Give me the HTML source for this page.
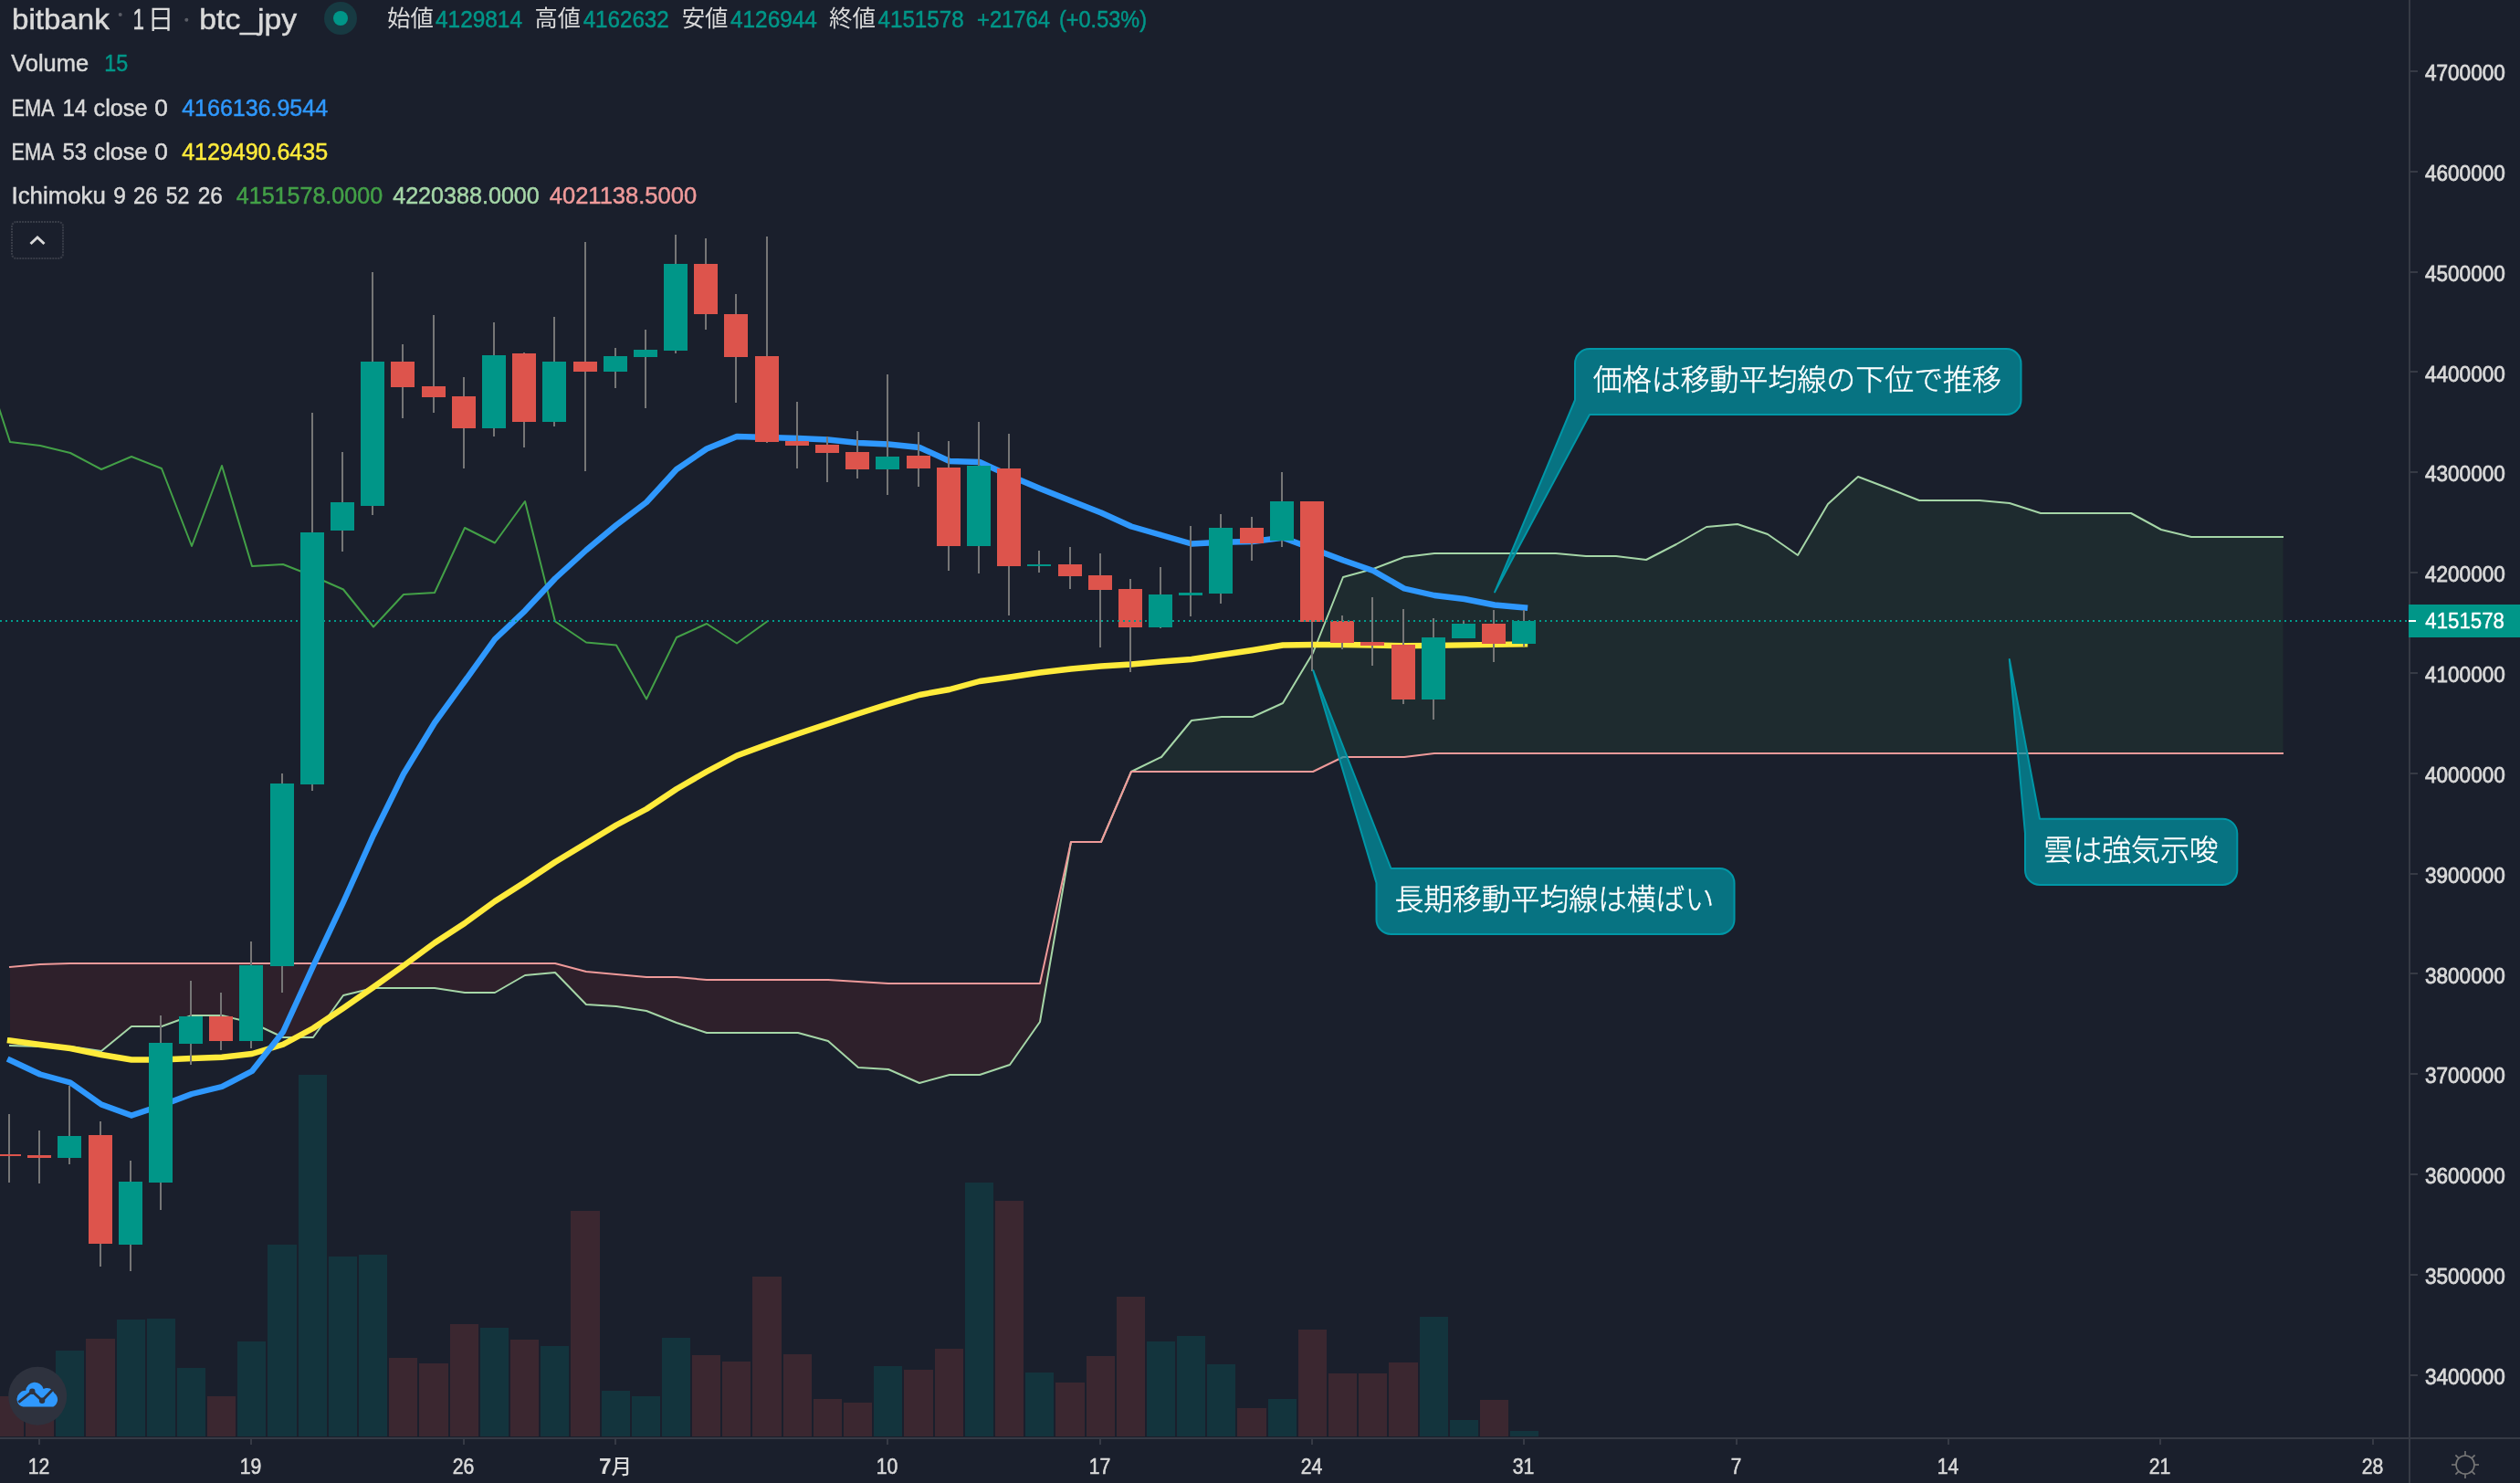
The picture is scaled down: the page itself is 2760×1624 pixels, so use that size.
<!DOCTYPE html><html lang="ja"><head><meta charset="utf-8"><title>bitbank btc_jpy</title>
<style>html,body{margin:0;padding:0;background:#1a1f2c;}body{width:2760px;height:1624px;overflow:hidden;}svg{display:block;will-change:transform;}
text{font-family:"Liberation Sans","Noto Sans CJK JP",sans-serif;}.cj{font-family:"Noto Sans CJK JP","Liberation Sans",sans-serif;}</style></head><body>
<svg width="2760" height="1624" viewBox="0 0 2760 1624">
<rect width="2760" height="1624" fill="#1a1f2c"/>
<defs><clipPath id="ca"><rect x="0" y="0" width="2638" height="1574"/></clipPath></defs>
<g clip-path="url(#ca)">
<g shape-rendering="crispEdges">
<rect x="-5" y="1529" width="31" height="44" fill="#3b2730"/>
<rect x="28" y="1529" width="31" height="44" fill="#3b2730"/>
<rect x="61" y="1479" width="31" height="94" fill="#13343d"/>
<rect x="94" y="1466" width="32" height="107" fill="#3b2730"/>
<rect x="128" y="1445" width="31" height="128" fill="#13343d"/>
<rect x="161" y="1444" width="31" height="129" fill="#13343d"/>
<rect x="194" y="1498" width="31" height="75" fill="#13343d"/>
<rect x="227" y="1529" width="31" height="44" fill="#3b2730"/>
<rect x="260" y="1469" width="31" height="104" fill="#13343d"/>
<rect x="293" y="1363" width="32" height="210" fill="#13343d"/>
<rect x="327" y="1177" width="31" height="396" fill="#13343d"/>
<rect x="360" y="1376" width="31" height="197" fill="#13343d"/>
<rect x="393" y="1374" width="31" height="199" fill="#13343d"/>
<rect x="426" y="1487" width="31" height="86" fill="#3b2730"/>
<rect x="459" y="1493" width="32" height="80" fill="#3b2730"/>
<rect x="493" y="1450" width="31" height="123" fill="#3b2730"/>
<rect x="526" y="1454" width="31" height="119" fill="#13343d"/>
<rect x="559" y="1467" width="31" height="106" fill="#3b2730"/>
<rect x="592" y="1474" width="31" height="99" fill="#13343d"/>
<rect x="625" y="1326" width="32" height="247" fill="#3b2730"/>
<rect x="659" y="1523" width="31" height="50" fill="#13343d"/>
<rect x="692" y="1529" width="31" height="44" fill="#13343d"/>
<rect x="725" y="1465" width="31" height="108" fill="#13343d"/>
<rect x="758" y="1484" width="31" height="89" fill="#3b2730"/>
<rect x="791" y="1491" width="31" height="82" fill="#3b2730"/>
<rect x="824" y="1398" width="32" height="175" fill="#3b2730"/>
<rect x="858" y="1483" width="31" height="90" fill="#3b2730"/>
<rect x="891" y="1532" width="31" height="41" fill="#3b2730"/>
<rect x="924" y="1536" width="31" height="37" fill="#3b2730"/>
<rect x="957" y="1496" width="31" height="77" fill="#13343d"/>
<rect x="990" y="1500" width="32" height="73" fill="#3b2730"/>
<rect x="1024" y="1477" width="31" height="96" fill="#3b2730"/>
<rect x="1057" y="1295" width="31" height="278" fill="#13343d"/>
<rect x="1090" y="1315" width="31" height="258" fill="#3b2730"/>
<rect x="1123" y="1503" width="31" height="70" fill="#13343d"/>
<rect x="1156" y="1514" width="32" height="59" fill="#3b2730"/>
<rect x="1190" y="1485" width="31" height="88" fill="#3b2730"/>
<rect x="1223" y="1420" width="31" height="153" fill="#3b2730"/>
<rect x="1256" y="1469" width="31" height="104" fill="#13343d"/>
<rect x="1289" y="1463" width="31" height="110" fill="#13343d"/>
<rect x="1322" y="1494" width="31" height="79" fill="#13343d"/>
<rect x="1355" y="1542" width="32" height="31" fill="#3b2730"/>
<rect x="1389" y="1532" width="31" height="41" fill="#13343d"/>
<rect x="1422" y="1456" width="31" height="117" fill="#3b2730"/>
<rect x="1455" y="1504" width="31" height="69" fill="#3b2730"/>
<rect x="1488" y="1504" width="31" height="69" fill="#3b2730"/>
<rect x="1521" y="1492" width="32" height="81" fill="#3b2730"/>
<rect x="1555" y="1442" width="31" height="131" fill="#13343d"/>
<rect x="1588" y="1555" width="31" height="18" fill="#13343d"/>
<rect x="1621" y="1533" width="31" height="40" fill="#3b2730"/>
<rect x="1654" y="1567" width="31" height="6" fill="#13343d"/>
</g>
<path d="M11.00,1145.00 L44.00,1146.00 L77.00,1146.00 L111.00,1151.00 L144.00,1124.00 L177.00,1124.00 L210.00,1112.00 L243.00,1112.00 L276.00,1120.00 L310.00,1136.00 L343.00,1136.00 L376.00,1090.00 L409.00,1082.00 L442.00,1082.00 L476.00,1082.00 L509.00,1087.00 L542.00,1087.00 L575.00,1068.00 L608.00,1065.00 L642.00,1100.00 L675.00,1102.00 L708.00,1107.00 L741.00,1120.00 L774.00,1131.00 L807.00,1131.00 L841.00,1131.00 L874.00,1131.00 L907.00,1140.00 L940.00,1169.00 L973.00,1171.00 L1007.00,1186.00 L1040.00,1177.00 L1073.00,1177.00 L1106.00,1166.00 L1139.00,1119.00 L1173.00,922.00 L1173.00,922.00 L1139.00,1077.00 L1106.00,1077.00 L1073.00,1077.00 L1040.00,1077.00 L1007.00,1077.00 L973.00,1077.00 L940.00,1075.00 L907.00,1073.00 L874.00,1073.00 L841.00,1073.00 L807.00,1073.00 L774.00,1073.00 L741.00,1070.00 L708.00,1070.00 L675.00,1067.00 L642.00,1064.00 L608.00,1055.00 L575.00,1055.00 L542.00,1055.00 L509.00,1055.00 L476.00,1055.00 L442.00,1055.00 L409.00,1055.00 L376.00,1055.00 L343.00,1055.00 L310.00,1055.00 L276.00,1055.00 L243.00,1055.00 L210.00,1055.00 L177.00,1055.00 L144.00,1055.00 L111.00,1055.00 L77.00,1055.00 L44.00,1056.00 L11.00,1059.00Z" fill="#2e202b"/>
<path d="M1239.00,845.00 L1272.00,829.00 L1305.00,789.00 L1338.00,785.00 L1372.00,785.00 L1405.00,770.00 L1438.00,715.00 L1471.00,632.00 L1504.00,623.00 L1538.00,610.00 L1571.00,606.00 L1604.00,606.00 L1637.00,606.00 L1670.00,606.00 L1704.00,606.00 L1737.00,609.00 L1770.00,609.00 L1803.00,613.00 L1836.00,596.00 L1869.00,577.00 L1903.00,574.00 L1936.00,585.00 L1969.00,608.00 L2002.00,552.00 L2035.00,522.00 L2069.00,535.00 L2102.00,548.00 L2135.00,548.00 L2168.00,548.00 L2201.00,551.00 L2235.00,562.00 L2268.00,562.00 L2301.00,562.00 L2334.00,562.00 L2367.00,580.00 L2400.00,588.00 L2434.00,588.00 L2467.00,588.00 L2500.50,588.00 L2500.50,825.00 L2467.00,825.00 L2434.00,825.00 L2400.00,825.00 L2367.00,825.00 L2334.00,825.00 L2301.00,825.00 L2268.00,825.00 L2235.00,825.00 L2201.00,825.00 L2168.00,825.00 L2135.00,825.00 L2102.00,825.00 L2069.00,825.00 L2035.00,825.00 L2002.00,825.00 L1969.00,825.00 L1936.00,825.00 L1903.00,825.00 L1869.00,825.00 L1836.00,825.00 L1803.00,825.00 L1770.00,825.00 L1737.00,825.00 L1704.00,825.00 L1670.00,825.00 L1637.00,825.00 L1604.00,825.00 L1571.00,825.00 L1538.00,829.00 L1504.00,829.00 L1471.00,829.00 L1438.00,845.00 L1405.00,845.00 L1372.00,845.00 L1338.00,845.00 L1305.00,845.00 L1272.00,845.00 L1239.00,845.00Z" fill="#1e2b2f"/>
<polyline points="-22.0,383.00 11.0,484.00 44.0,488.00 77.0,496.00 111.0,514.00 144.0,500.00 177.0,513.00 210.0,598.00 243.0,510.00 276.0,620.00 310.0,618.00 343.0,631.00 376.0,645.50 409.0,686.50 442.0,651.00 476.0,649.00 509.0,578.00 542.0,594.50 575.0,549.00 608.0,680.50 642.0,703.50 675.0,706.50 708.0,765.50 741.0,698.00 774.0,683.00 807.0,704.50 841.0,680.00" fill="none" stroke="#43a047" stroke-width="2" stroke-linejoin="round"/>
<polyline points="11.0,1145.00 44.0,1146.00 77.0,1146.00 111.0,1151.00 144.0,1124.00 177.0,1124.00 210.0,1112.00 243.0,1112.00 276.0,1120.00 310.0,1136.00 343.0,1136.00 376.0,1090.00 409.0,1082.00 442.0,1082.00 476.0,1082.00 509.0,1087.00 542.0,1087.00 575.0,1068.00 608.0,1065.00 642.0,1100.00 675.0,1102.00 708.0,1107.00 741.0,1120.00 774.0,1131.00 807.0,1131.00 841.0,1131.00 874.0,1131.00 907.0,1140.00 940.0,1169.00 973.0,1171.00 1007.0,1186.00 1040.0,1177.00 1073.0,1177.00 1106.0,1166.00 1139.0,1119.00 1173.0,922.00 1206.0,922.00 1239.0,845.00 1272.0,829.00 1305.0,789.00 1338.0,785.00 1372.0,785.00 1405.0,770.00 1438.0,715.00 1471.0,632.00 1504.0,623.00 1538.0,610.00 1571.0,606.00 1604.0,606.00 1637.0,606.00 1670.0,606.00 1704.0,606.00 1737.0,609.00 1770.0,609.00 1803.0,613.00 1836.0,596.00 1869.0,577.00 1903.0,574.00 1936.0,585.00 1969.0,608.00 2002.0,552.00 2035.0,522.00 2069.0,535.00 2102.0,548.00 2135.0,548.00 2168.0,548.00 2201.0,551.00 2235.0,562.00 2268.0,562.00 2301.0,562.00 2334.0,562.00 2367.0,580.00 2400.0,588.00 2434.0,588.00 2467.0,588.00 2500.0,588.00" fill="none" stroke="#a5d6a7" stroke-width="2" stroke-linejoin="round" stroke-linecap="square"/>
<polyline points="11.0,1059.00 44.0,1056.00 77.0,1055.00 111.0,1055.00 144.0,1055.00 177.0,1055.00 210.0,1055.00 243.0,1055.00 276.0,1055.00 310.0,1055.00 343.0,1055.00 376.0,1055.00 409.0,1055.00 442.0,1055.00 476.0,1055.00 509.0,1055.00 542.0,1055.00 575.0,1055.00 608.0,1055.00 642.0,1064.00 675.0,1067.00 708.0,1070.00 741.0,1070.00 774.0,1073.00 807.0,1073.00 841.0,1073.00 874.0,1073.00 907.0,1073.00 940.0,1075.00 973.0,1077.00 1007.0,1077.00 1040.0,1077.00 1073.0,1077.00 1106.0,1077.00 1139.0,1077.00 1173.0,922.00 1206.0,922.00 1239.0,845.00 1272.0,845.00 1305.0,845.00 1338.0,845.00 1372.0,845.00 1405.0,845.00 1438.0,845.00 1471.0,829.00 1504.0,829.00 1538.0,829.00 1571.0,825.00 1604.0,825.00 1637.0,825.00 1670.0,825.00 1704.0,825.00 1737.0,825.00 1770.0,825.00 1803.0,825.00 1836.0,825.00 1869.0,825.00 1903.0,825.00 1936.0,825.00 1969.0,825.00 2002.0,825.00 2035.0,825.00 2069.0,825.00 2102.0,825.00 2135.0,825.00 2168.0,825.00 2201.0,825.00 2235.0,825.00 2268.0,825.00 2301.0,825.00 2334.0,825.00 2367.0,825.00 2400.0,825.00 2434.0,825.00 2467.0,825.00 2500.0,825.00" fill="none" stroke="#ef9a9a" stroke-width="2" stroke-linejoin="round" stroke-linecap="square"/>
<polyline points="11.0,1139.50 44.0,1144.00 77.0,1148.00 111.0,1155.00 144.0,1160.50 177.0,1160.50 210.0,1159.00 243.0,1157.75 276.0,1154.00 310.0,1143.75 343.0,1126.00 376.0,1104.00 409.0,1081.00 442.0,1057.50 476.0,1032.50 509.0,1011.00 542.0,987.00 575.0,966.00 608.0,944.00 642.0,923.50 675.0,903.50 708.0,886.00 741.0,864.00 774.0,845.00 807.0,827.50 841.0,815.00 874.0,803.50 907.0,792.50 940.0,781.50 973.0,771.00 1007.0,761.00 1040.0,755.00 1073.0,746.00 1106.0,741.50 1139.0,736.50 1173.0,732.50 1206.0,729.50 1239.0,727.50 1272.0,724.50 1305.0,722.00 1338.0,717.00 1372.0,712.00 1405.0,706.50 1438.0,706.00 1471.0,706.00 1504.0,706.50 1538.0,707.20 1571.0,706.90 1604.0,706.40 1637.0,705.90 1670.0,705.40" fill="none" stroke="#ffeb3b" stroke-width="6.4" stroke-linejoin="round" stroke-linecap="square"/>
<polyline points="11.0,1161.00 44.0,1176.50 77.0,1185.50 111.0,1209.50 144.0,1221.50 177.0,1210.50 210.0,1198.00 243.0,1190.00 276.0,1173.00 310.0,1130.00 343.0,1058.00 376.0,988.00 409.0,914.50 442.0,847.50 476.0,791.50 509.0,746.00 542.0,700.00 575.0,668.80 608.0,633.50 642.0,602.50 675.0,575.00 708.0,550.00 741.0,514.00 774.0,491.50 807.0,478.00 841.0,479.00 874.0,480.00 907.0,481.50 940.0,485.00 973.0,486.50 1007.0,490.00 1040.0,505.00 1073.0,506.00 1106.0,521.00 1139.0,535.00 1173.0,548.50 1206.0,561.50 1239.0,576.50 1272.0,586.00 1305.0,595.50 1338.0,593.75 1372.0,593.00 1405.0,588.75 1438.0,601.00 1471.0,613.50 1504.0,625.00 1538.0,644.50 1571.0,652.00 1604.0,656.00 1637.0,662.50 1670.0,665.50" fill="none" stroke="#2f98fd" stroke-width="6.4" stroke-linejoin="round" stroke-linecap="square"/>
<line x1="0" y1="680" x2="2638" y2="680" stroke="#009c8c" stroke-width="2" stroke-dasharray="2 4" shape-rendering="crispEdges"/>
<g shape-rendering="crispEdges">
<rect x="9" y="1220.00" width="2" height="74.50" fill="#767676"/>
<rect x="-3" y="1264.00" width="26" height="2.00" fill="#dd544c"/>
<rect x="42" y="1238.00" width="2" height="57.50" fill="#767676"/>
<rect x="30" y="1264.75" width="26" height="3.00" fill="#dd544c"/>
<rect x="75" y="1189.00" width="2" height="85.50" fill="#767676"/>
<rect x="63" y="1244.00" width="26" height="23.50" fill="#009688"/>
<rect x="109" y="1228.00" width="2" height="158.50" fill="#767676"/>
<rect x="97" y="1243.00" width="26" height="118.50" fill="#dd544c"/>
<rect x="142" y="1271.00" width="2" height="120.50" fill="#767676"/>
<rect x="130" y="1294.00" width="26" height="68.50" fill="#009688"/>
<rect x="175" y="1112.00" width="2" height="212.50" fill="#767676"/>
<rect x="163" y="1142.00" width="26" height="152.50" fill="#009688"/>
<rect x="208" y="1074.00" width="2" height="92.00" fill="#767676"/>
<rect x="196" y="1113.00" width="26" height="29.50" fill="#009688"/>
<rect x="241" y="1087.00" width="2" height="62.50" fill="#767676"/>
<rect x="229" y="1113.00" width="26" height="26.50" fill="#dd544c"/>
<rect x="274" y="1031.00" width="2" height="116.50" fill="#767676"/>
<rect x="262" y="1057.00" width="26" height="82.50" fill="#009688"/>
<rect x="308" y="847.00" width="2" height="239.50" fill="#767676"/>
<rect x="296" y="858.00" width="26" height="199.50" fill="#009688"/>
<rect x="341" y="452.00" width="2" height="414.00" fill="#767676"/>
<rect x="329" y="583.00" width="26" height="276.00" fill="#009688"/>
<rect x="374" y="495.00" width="2" height="109.00" fill="#767676"/>
<rect x="362" y="550.00" width="26" height="31.00" fill="#009688"/>
<rect x="407" y="298.00" width="2" height="266.00" fill="#767676"/>
<rect x="395" y="396.00" width="26" height="158.00" fill="#009688"/>
<rect x="440" y="376.50" width="2" height="81.50" fill="#767676"/>
<rect x="428" y="396.00" width="26" height="28.00" fill="#dd544c"/>
<rect x="474" y="345.00" width="2" height="107.00" fill="#767676"/>
<rect x="462" y="423.00" width="26" height="12.00" fill="#dd544c"/>
<rect x="507" y="413.00" width="2" height="100.00" fill="#767676"/>
<rect x="495" y="434.00" width="26" height="35.00" fill="#dd544c"/>
<rect x="540" y="353.00" width="2" height="125.00" fill="#767676"/>
<rect x="528" y="389.00" width="26" height="80.00" fill="#009688"/>
<rect x="573" y="386.00" width="2" height="104.00" fill="#767676"/>
<rect x="561" y="387.00" width="26" height="75.00" fill="#dd544c"/>
<rect x="606" y="346.50" width="2" height="120.50" fill="#767676"/>
<rect x="594" y="396.00" width="26" height="66.00" fill="#009688"/>
<rect x="640" y="265.00" width="2" height="250.50" fill="#767676"/>
<rect x="628" y="396.00" width="26" height="11.00" fill="#dd544c"/>
<rect x="673" y="381.00" width="2" height="44.00" fill="#767676"/>
<rect x="661" y="390.00" width="26" height="17.00" fill="#009688"/>
<rect x="706" y="361.00" width="2" height="86.00" fill="#767676"/>
<rect x="694" y="383.00" width="26" height="8.00" fill="#009688"/>
<rect x="739" y="257.00" width="2" height="130.00" fill="#767676"/>
<rect x="727" y="289.00" width="26" height="95.00" fill="#009688"/>
<rect x="772" y="261.00" width="2" height="100.00" fill="#767676"/>
<rect x="760" y="289.00" width="26" height="55.00" fill="#dd544c"/>
<rect x="805" y="322.00" width="2" height="119.00" fill="#767676"/>
<rect x="793" y="344.00" width="26" height="47.00" fill="#dd544c"/>
<rect x="839" y="259.00" width="2" height="226.00" fill="#767676"/>
<rect x="827" y="390.00" width="26" height="94.00" fill="#dd544c"/>
<rect x="872" y="440.00" width="2" height="73.00" fill="#767676"/>
<rect x="860" y="483.00" width="26" height="5.00" fill="#dd544c"/>
<rect x="905" y="478.00" width="2" height="50.00" fill="#767676"/>
<rect x="893" y="487.00" width="26" height="9.00" fill="#dd544c"/>
<rect x="938" y="472.00" width="2" height="52.00" fill="#767676"/>
<rect x="926" y="495.00" width="26" height="19.00" fill="#dd544c"/>
<rect x="971" y="410.00" width="2" height="132.00" fill="#767676"/>
<rect x="959" y="500.00" width="26" height="14.00" fill="#009688"/>
<rect x="1005" y="473.00" width="2" height="60.00" fill="#767676"/>
<rect x="993" y="499.00" width="26" height="14.00" fill="#dd544c"/>
<rect x="1038" y="483.00" width="2" height="142.00" fill="#767676"/>
<rect x="1026" y="512.00" width="26" height="86.00" fill="#dd544c"/>
<rect x="1071" y="462.00" width="2" height="166.00" fill="#767676"/>
<rect x="1059" y="510.00" width="26" height="88.00" fill="#009688"/>
<rect x="1104" y="475.00" width="2" height="199.00" fill="#767676"/>
<rect x="1092" y="513.00" width="26" height="107.00" fill="#dd544c"/>
<rect x="1137" y="603.00" width="2" height="24.00" fill="#767676"/>
<rect x="1125" y="618.00" width="26" height="2.00" fill="#009688"/>
<rect x="1171" y="599.00" width="2" height="46.00" fill="#767676"/>
<rect x="1159" y="618.00" width="26" height="13.00" fill="#dd544c"/>
<rect x="1204" y="606.00" width="2" height="102.50" fill="#767676"/>
<rect x="1192" y="630.00" width="26" height="15.50" fill="#dd544c"/>
<rect x="1237" y="634.00" width="2" height="101.50" fill="#767676"/>
<rect x="1225" y="645.00" width="26" height="41.50" fill="#dd544c"/>
<rect x="1270" y="621.00" width="2" height="66.50" fill="#767676"/>
<rect x="1258" y="651.00" width="26" height="35.50" fill="#009688"/>
<rect x="1303" y="576.00" width="2" height="98.50" fill="#767676"/>
<rect x="1291" y="649.00" width="26" height="2.75" fill="#009688"/>
<rect x="1336" y="563.00" width="2" height="97.75" fill="#767676"/>
<rect x="1324" y="578.00" width="26" height="71.50" fill="#009688"/>
<rect x="1370" y="566.00" width="2" height="47.75" fill="#767676"/>
<rect x="1358" y="578.00" width="26" height="16.50" fill="#dd544c"/>
<rect x="1403" y="517.00" width="2" height="81.75" fill="#767676"/>
<rect x="1391" y="549.00" width="26" height="42.50" fill="#009688"/>
<rect x="1436" y="549.00" width="2" height="185.50" fill="#767676"/>
<rect x="1424" y="549.00" width="26" height="131.50" fill="#dd544c"/>
<rect x="1469" y="674.00" width="2" height="36.50" fill="#767676"/>
<rect x="1457" y="680.00" width="26" height="23.50" fill="#dd544c"/>
<rect x="1502" y="654.00" width="2" height="74.50" fill="#767676"/>
<rect x="1490" y="703.00" width="26" height="3.50" fill="#dd544c"/>
<rect x="1536" y="667.00" width="2" height="103.50" fill="#767676"/>
<rect x="1524" y="706.00" width="26" height="59.50" fill="#dd544c"/>
<rect x="1569" y="677.00" width="2" height="110.50" fill="#767676"/>
<rect x="1557" y="698.00" width="26" height="67.50" fill="#009688"/>
<rect x="1602" y="679.50" width="2" height="19.25" fill="#767676"/>
<rect x="1590" y="683.00" width="26" height="15.75" fill="#009688"/>
<rect x="1635" y="668.00" width="2" height="56.50" fill="#767676"/>
<rect x="1623" y="683.00" width="26" height="21.50" fill="#dd544c"/>
<rect x="1668" y="668.00" width="2" height="39.50" fill="#767676"/>
<rect x="1656" y="680.00" width="26" height="24.50" fill="#009688"/>
</g>
<g shape-rendering="crispEdges" fill="#009688">
<rect x="1225" y="679.0" width="1" height="2.0"/>
<rect x="1230" y="679.0" width="2" height="2.0"/>
<rect x="1236" y="679.0" width="2" height="2.0"/>
<rect x="1242" y="679.0" width="2" height="2.0"/>
<rect x="1248" y="679.0" width="2" height="2.0"/>
<rect x="1428" y="679.0" width="2" height="1.5"/>
<rect x="1434" y="679.0" width="2" height="1.5"/>
<rect x="1440" y="679.0" width="2" height="1.5"/>
<rect x="1446" y="679.0" width="2" height="1.5"/>
<rect x="1458" y="680.0" width="2" height="1.0"/>
<rect x="1464" y="680.0" width="2" height="1.0"/>
<rect x="1470" y="680.0" width="2" height="1.0"/>
<rect x="1476" y="680.0" width="2" height="1.0"/>
<rect x="1482" y="680.0" width="1" height="1.0"/>
</g>
<path d="M1741.0,382.0 L2197.5,382.0 A16,16 0 0 1 2213.5,398.0 L2213.5,438.0 A16,16 0 0 1 2197.5,454.0 L1741.0,454.0 L1637.1,648.4 L1725.0,438.0 L1725.0,398.0 A16,16 0 0 1 1741.0,382.0Z" fill="rgba(0,151,167,0.7)" stroke="#0097a7" stroke-width="2" stroke-linejoin="round"/>
<path d="M1523.5,951.0 L1883.5,951.0 A16,16 0 0 1 1899.5,967.0 L1899.5,1007.0 A16,16 0 0 1 1883.5,1023.0 L1523.5,1023.0 A16,16 0 0 1 1507.5,1007.0 L1507.5,967.0 L1438.3,734.3Z" fill="rgba(0,151,167,0.7)" stroke="#0097a7" stroke-width="2" stroke-linejoin="round"/>
<path d="M2234.0,896.7 L2434.3,896.7 A16,16 0 0 1 2450.3,912.7 L2450.3,953.0 A16,16 0 0 1 2434.3,969.0 L2234.0,969.0 A16,16 0 0 1 2218.0,953.0 L2218.0,912.7 L2200.8,722.0Z" fill="rgba(0,151,167,0.7)" stroke="#0097a7" stroke-width="2" stroke-linejoin="round"/>
</g>
<text class="cj" x="1744.8" y="426.5" font-size="32" font-weight="300" fill="#ffffff" stroke="#ffffff" stroke-width="0.45" textLength="447.2" lengthAdjust="spacingAndGlyphs">価格は移動平均線の下位で推移</text>
<text class="cj" x="1527.4" y="996.0" font-size="32" font-weight="300" fill="#ffffff" stroke="#ffffff" stroke-width="0.45" textLength="349.8" lengthAdjust="spacingAndGlyphs">長期移動平均線は横ばい</text>
<text class="cj" x="2238.3" y="941.5" font-size="32" font-weight="300" fill="#ffffff" stroke="#ffffff" stroke-width="0.45" textLength="191.5" lengthAdjust="spacingAndGlyphs">雲は強気示唆</text>
<g shape-rendering="crispEdges" fill="#363a45">
<rect x="2638" y="0" width="2" height="1624"/>
<rect x="0" y="1574" width="2760" height="2"/>
<rect x="2640" y="1505" width="8" height="2"/>
<rect x="2640" y="1395" width="8" height="2"/>
<rect x="2640" y="1285" width="8" height="2"/>
<rect x="2640" y="1175" width="8" height="2"/>
<rect x="2640" y="1065" width="8" height="2"/>
<rect x="2640" y="956" width="8" height="2"/>
<rect x="2640" y="846" width="8" height="2"/>
<rect x="2640" y="736" width="8" height="2"/>
<rect x="2640" y="626" width="8" height="2"/>
<rect x="2640" y="516" width="8" height="2"/>
<rect x="2640" y="406" width="8" height="2"/>
<rect x="2640" y="297" width="8" height="2"/>
<rect x="2640" y="187" width="8" height="2"/>
<rect x="2640" y="77" width="8" height="2"/>
<rect x="42" y="1576" width="2" height="6"/>
<rect x="274" y="1576" width="2" height="6"/>
<rect x="507" y="1576" width="2" height="6"/>
<rect x="673" y="1576" width="2" height="6"/>
<rect x="971" y="1576" width="2" height="6"/>
<rect x="1204" y="1576" width="2" height="6"/>
<rect x="1436" y="1576" width="2" height="6"/>
<rect x="1668" y="1576" width="2" height="6"/>
<rect x="1901" y="1576" width="2" height="6"/>
<rect x="2133" y="1576" width="2" height="6"/>
<rect x="2365" y="1576" width="2" height="6"/>
<rect x="2598" y="1576" width="2" height="6"/>
</g>
<text x="2656.0" y="1515.8" font-size="24.5" fill="#d9d9d9" stroke="#d9d9d9" stroke-width="0.8" textLength="87.8" lengthAdjust="spacingAndGlyphs">3400000</text>
<text x="2656.0" y="1406.0" font-size="24.5" fill="#d9d9d9" stroke="#d9d9d9" stroke-width="0.8" textLength="87.8" lengthAdjust="spacingAndGlyphs">3500000</text>
<text x="2656.0" y="1296.1" font-size="24.5" fill="#d9d9d9" stroke="#d9d9d9" stroke-width="0.8" textLength="87.8" lengthAdjust="spacingAndGlyphs">3600000</text>
<text x="2656.0" y="1186.3" font-size="24.5" fill="#d9d9d9" stroke="#d9d9d9" stroke-width="0.8" textLength="87.8" lengthAdjust="spacingAndGlyphs">3700000</text>
<text x="2656.0" y="1076.5" font-size="24.5" fill="#d9d9d9" stroke="#d9d9d9" stroke-width="0.8" textLength="87.8" lengthAdjust="spacingAndGlyphs">3800000</text>
<text x="2656.0" y="966.6" font-size="24.5" fill="#d9d9d9" stroke="#d9d9d9" stroke-width="0.8" textLength="87.8" lengthAdjust="spacingAndGlyphs">3900000</text>
<text x="2656.0" y="856.8" font-size="24.5" fill="#d9d9d9" stroke="#d9d9d9" stroke-width="0.8" textLength="87.8" lengthAdjust="spacingAndGlyphs">4000000</text>
<text x="2656.0" y="747.0" font-size="24.5" fill="#d9d9d9" stroke="#d9d9d9" stroke-width="0.8" textLength="87.8" lengthAdjust="spacingAndGlyphs">4100000</text>
<text x="2656.0" y="637.1" font-size="24.5" fill="#d9d9d9" stroke="#d9d9d9" stroke-width="0.8" textLength="87.8" lengthAdjust="spacingAndGlyphs">4200000</text>
<text x="2656.0" y="527.3" font-size="24.5" fill="#d9d9d9" stroke="#d9d9d9" stroke-width="0.8" textLength="87.8" lengthAdjust="spacingAndGlyphs">4300000</text>
<text x="2656.0" y="417.5" font-size="24.5" fill="#d9d9d9" stroke="#d9d9d9" stroke-width="0.8" textLength="87.8" lengthAdjust="spacingAndGlyphs">4400000</text>
<text x="2656.0" y="307.7" font-size="24.5" fill="#d9d9d9" stroke="#d9d9d9" stroke-width="0.8" textLength="87.8" lengthAdjust="spacingAndGlyphs">4500000</text>
<text x="2656.0" y="197.8" font-size="24.5" fill="#d9d9d9" stroke="#d9d9d9" stroke-width="0.8" textLength="87.8" lengthAdjust="spacingAndGlyphs">4600000</text>
<text x="2656.0" y="88.0" font-size="24.5" fill="#d9d9d9" stroke="#d9d9d9" stroke-width="0.8" textLength="87.8" lengthAdjust="spacingAndGlyphs">4700000</text>
<text x="30.7" y="1614.3" font-size="24.5" fill="#d9d9d9" stroke="#d9d9d9" stroke-width="0.6" textLength="23.6" lengthAdjust="spacingAndGlyphs">12</text>
<text x="262.7" y="1614.3" font-size="24.5" fill="#d9d9d9" stroke="#d9d9d9" stroke-width="0.6" textLength="23.6" lengthAdjust="spacingAndGlyphs">19</text>
<text x="495.7" y="1614.3" font-size="24.5" fill="#d9d9d9" stroke="#d9d9d9" stroke-width="0.6" textLength="23.6" lengthAdjust="spacingAndGlyphs">26</text>
<text x="674" y="1614.3" font-size="24.5" fill="#d9d9d9" text-anchor="middle"><tspan font-weight="bold">7</tspan><tspan font-weight="500" font-size="22.5" class="cj">月</tspan></text>
<text x="959.7" y="1614.3" font-size="24.5" fill="#d9d9d9" stroke="#d9d9d9" stroke-width="0.6" textLength="23.6" lengthAdjust="spacingAndGlyphs">10</text>
<text x="1192.7" y="1614.3" font-size="24.5" fill="#d9d9d9" stroke="#d9d9d9" stroke-width="0.6" textLength="23.6" lengthAdjust="spacingAndGlyphs">17</text>
<text x="1424.7" y="1614.3" font-size="24.5" fill="#d9d9d9" stroke="#d9d9d9" stroke-width="0.6" textLength="23.6" lengthAdjust="spacingAndGlyphs">24</text>
<text x="1656.7" y="1614.3" font-size="24.5" fill="#d9d9d9" stroke="#d9d9d9" stroke-width="0.6" textLength="23.6" lengthAdjust="spacingAndGlyphs">31</text>
<text x="1895.8" y="1614.3" font-size="24.5" fill="#d9d9d9" stroke="#d9d9d9" stroke-width="0.6" textLength="11.5" lengthAdjust="spacingAndGlyphs">7</text>
<text x="2121.7" y="1614.3" font-size="24.5" fill="#d9d9d9" stroke="#d9d9d9" stroke-width="0.6" textLength="23.6" lengthAdjust="spacingAndGlyphs">14</text>
<text x="2353.7" y="1614.3" font-size="24.5" fill="#d9d9d9" stroke="#d9d9d9" stroke-width="0.6" textLength="23.6" lengthAdjust="spacingAndGlyphs">21</text>
<text x="2586.7" y="1614.3" font-size="24.5" fill="#d9d9d9" stroke="#d9d9d9" stroke-width="0.6" textLength="23.6" lengthAdjust="spacingAndGlyphs">28</text>
<rect x="2638" y="662" width="122" height="36" fill="#009688" shape-rendering="crispEdges"/>
<rect x="2638" y="679" width="8" height="2" fill="#ffffff" shape-rendering="crispEdges"/>
<text x="2656.3" y="688.1" font-size="24" fill="#ffffff" stroke="#ffffff" stroke-width="0.4" textLength="86.6" lengthAdjust="spacingAndGlyphs">4151578</text>
<g stroke="#777777" stroke-width="1.6" fill="none"><circle cx="2700" cy="1604" r="10"/>
<line x1="2710.00" y1="1604.00" x2="2715.00" y2="1604.00"/>
<line x1="2707.07" y1="1611.07" x2="2710.61" y2="1614.61"/>
<line x1="2700.00" y1="1614.00" x2="2700.00" y2="1619.00"/>
<line x1="2692.93" y1="1611.07" x2="2689.39" y2="1614.61"/>
<line x1="2690.00" y1="1604.00" x2="2685.00" y2="1604.00"/>
<line x1="2692.93" y1="1596.93" x2="2689.39" y2="1593.39"/>
<line x1="2700.00" y1="1594.00" x2="2700.00" y2="1589.00"/>
<line x1="2707.07" y1="1596.93" x2="2710.61" y2="1593.39"/>
</g>
<text x="13.0" y="31.7" font-size="32" fill="#d9d9d9" stroke="#d9d9d9" stroke-width="0.5" textLength="106.7" lengthAdjust="spacingAndGlyphs">bitbank</text>
<circle cx="131.7" cy="16" r="2" fill="#5a5d66"/>
<text x="145.5" y="31.7" font-size="32" fill="#d9d9d9" stroke="#d9d9d9" stroke-width="0.5" textLength="12.5" lengthAdjust="spacingAndGlyphs">1</text>
<text class="cj" x="161.6" y="32.2" font-size="29" font-weight="400" fill="#d9d9d9">日</text>
<circle cx="204.3" cy="21.7" r="2" fill="#5a5d66"/>
<text x="218.3" y="31.7" font-size="32" fill="#d9d9d9" stroke="#d9d9d9" stroke-width="0.5" textLength="106.7" lengthAdjust="spacingAndGlyphs">btc_jpy</text>
<circle cx="373" cy="20" r="18" fill="#173a42"/><circle cx="373" cy="20" r="8" fill="#009688"/>
<text class="cj" x="424.1" y="29.0" font-size="24.5" font-weight="400" fill="#d9d9d9" textLength="50.8" lengthAdjust="spacingAndGlyphs">始値</text>
<text x="477.0" y="30.3" font-size="26" fill="#009688" stroke="#009688" stroke-width="0.5" textLength="95.0" lengthAdjust="spacingAndGlyphs">4129814</text>
<text class="cj" x="585.4" y="29.0" font-size="24.5" font-weight="400" fill="#d9d9d9" textLength="50.5" lengthAdjust="spacingAndGlyphs">高値</text>
<text x="638.7" y="30.3" font-size="26" fill="#009688" stroke="#009688" stroke-width="0.5" textLength="94.0" lengthAdjust="spacingAndGlyphs">4162632</text>
<text class="cj" x="746.7" y="29.0" font-size="24.5" font-weight="400" fill="#d9d9d9" textLength="50.8" lengthAdjust="spacingAndGlyphs">安値</text>
<text x="800.0" y="30.3" font-size="26" fill="#009688" stroke="#009688" stroke-width="0.5" textLength="94.9" lengthAdjust="spacingAndGlyphs">4126944</text>
<text class="cj" x="908.0" y="29.0" font-size="24.5" font-weight="400" fill="#d9d9d9" textLength="51.1" lengthAdjust="spacingAndGlyphs">終値</text>
<text x="961.5" y="30.3" font-size="26" fill="#009688" stroke="#009688" stroke-width="0.5" textLength="94.1" lengthAdjust="spacingAndGlyphs">4151578</text>
<text x="1070.0" y="30.3" font-size="26" fill="#009688" stroke="#009688" stroke-width="0.5" textLength="80.0" lengthAdjust="spacingAndGlyphs">+21764</text>
<text x="1160.0" y="30.3" font-size="26" fill="#009688" stroke="#009688" stroke-width="0.5" textLength="96.0" lengthAdjust="spacingAndGlyphs">(+0.53%)</text>
<text x="12.2" y="78.3" font-size="26" fill="#d9d9d9" stroke="#d9d9d9" stroke-width="0.5" textLength="84.9" lengthAdjust="spacingAndGlyphs">Volume</text>
<text x="114.2" y="78.3" font-size="26" fill="#009688" stroke="#009688" stroke-width="0.5" textLength="25.9" lengthAdjust="spacingAndGlyphs">15</text>
<text x="12.5" y="126.7" font-size="26" fill="#d9d9d9" stroke="#d9d9d9" stroke-width="0.5" textLength="47.0" lengthAdjust="spacingAndGlyphs">EMA</text>
<text x="68.4" y="126.7" font-size="26" fill="#d9d9d9" stroke="#d9d9d9" stroke-width="0.5" textLength="26.6" lengthAdjust="spacingAndGlyphs">14</text>
<text x="102.5" y="126.7" font-size="26" fill="#d9d9d9" stroke="#d9d9d9" stroke-width="0.5" textLength="59.1" lengthAdjust="spacingAndGlyphs">close</text>
<text x="169.2" y="126.7" font-size="26" fill="#d9d9d9" stroke="#d9d9d9" stroke-width="0.5" textLength="14.6" lengthAdjust="spacingAndGlyphs">0</text>
<text x="199.2" y="126.7" font-size="26" fill="#2f98fd" stroke="#2f98fd" stroke-width="0.5" textLength="159.9" lengthAdjust="spacingAndGlyphs">4166136.9544</text>
<text x="12.5" y="174.7" font-size="26" fill="#d9d9d9" stroke="#d9d9d9" stroke-width="0.5" textLength="47.0" lengthAdjust="spacingAndGlyphs">EMA</text>
<text x="68.4" y="174.7" font-size="26" fill="#d9d9d9" stroke="#d9d9d9" stroke-width="0.5" textLength="26.6" lengthAdjust="spacingAndGlyphs">53</text>
<text x="102.5" y="174.7" font-size="26" fill="#d9d9d9" stroke="#d9d9d9" stroke-width="0.5" textLength="59.1" lengthAdjust="spacingAndGlyphs">close</text>
<text x="169.2" y="174.7" font-size="26" fill="#d9d9d9" stroke="#d9d9d9" stroke-width="0.5" textLength="14.6" lengthAdjust="spacingAndGlyphs">0</text>
<text x="199.2" y="174.7" font-size="26" fill="#ffeb3b" stroke="#ffeb3b" stroke-width="0.5" textLength="159.9" lengthAdjust="spacingAndGlyphs">4129490.6435</text>
<text x="12.5" y="223.0" font-size="26" fill="#d9d9d9" stroke="#d9d9d9" stroke-width="0.5" textLength="103.3" lengthAdjust="spacingAndGlyphs">Ichimoku</text>
<text x="124.2" y="223.0" font-size="26" fill="#d9d9d9" stroke="#d9d9d9" stroke-width="0.5" textLength="13.6" lengthAdjust="spacingAndGlyphs">9</text>
<text x="145.9" y="223.0" font-size="26" fill="#d9d9d9" stroke="#d9d9d9" stroke-width="0.5" textLength="26.6" lengthAdjust="spacingAndGlyphs">26</text>
<text x="181.7" y="223.0" font-size="26" fill="#d9d9d9" stroke="#d9d9d9" stroke-width="0.5" textLength="25.8" lengthAdjust="spacingAndGlyphs">52</text>
<text x="216.7" y="223.0" font-size="26" fill="#d9d9d9" stroke="#d9d9d9" stroke-width="0.5" textLength="27.1" lengthAdjust="spacingAndGlyphs">26</text>
<text x="258.8" y="223.0" font-size="26" fill="#43a047" stroke="#43a047" stroke-width="0.5" textLength="160.3" lengthAdjust="spacingAndGlyphs">4151578.0000</text>
<text x="430.2" y="223.0" font-size="26" fill="#a5d6a7" stroke="#a5d6a7" stroke-width="0.5" textLength="160.6" lengthAdjust="spacingAndGlyphs">4220388.0000</text>
<text x="601.8" y="223.0" font-size="26" fill="#ef9a9a" stroke="#ef9a9a" stroke-width="0.5" textLength="161.3" lengthAdjust="spacingAndGlyphs">4021138.5000</text>
<rect x="13" y="243" width="56" height="40" rx="5" fill="none" stroke="#383c47" stroke-width="2" stroke-dasharray="2 1"/>
<polyline points="33.5,267 41,260 48.5,267" fill="none" stroke="#d9d9d9" stroke-width="3" stroke-linecap="butt" stroke-linejoin="miter"/>
<circle cx="41.2" cy="1528.8" r="32" fill="#2e323e"/>
<path d="M25.4,1540.5 L58.3,1540.5 A8.7,8.7 0 0 0 59.4,1525.6 A8.3,8.3 0 0 0 47.6,1520.9 A9.9,9.9 0 0 0 28.2,1522.9 A7,7 0 0 0 21.6,1525.6 A8.5,8.5 0 0 0 25.4,1540.5Z" fill="#2f98fd"/>
<polyline points="20.3,1535.7 35.3,1523.7 46.1,1533.7 58.2,1521.3" fill="none" stroke="#2e323e" stroke-width="2.9"/>
<circle cx="35.3" cy="1523.7" r="3.2" fill="#2e323e"/><circle cx="46.1" cy="1533.7" r="3.2" fill="#2e323e"/>
</svg></body></html>
